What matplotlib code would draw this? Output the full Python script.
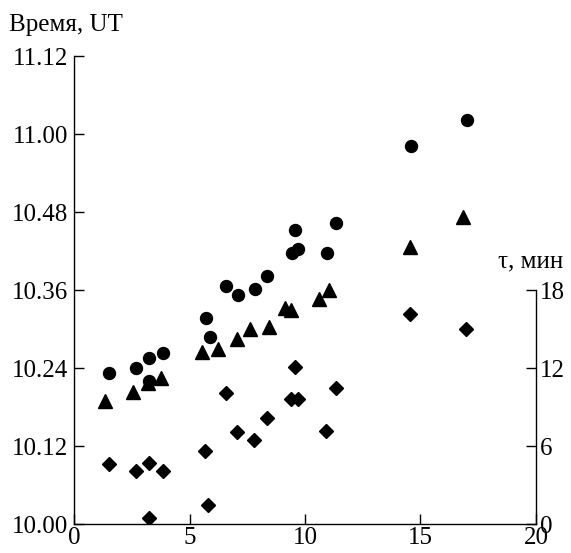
import numpy as np
import matplotlib
matplotlib.use("Agg")
import matplotlib.pyplot as plt

plt.rcParams['font.family'] = ['Liberation Serif', 'DejaVu Serif']

# Circles: time in minutes after 10:00 UT (left axis)
circ_x = [1.5, 2.7, 3.25, 3.85, 3.25, 5.7, 5.9, 6.6, 7.1, 7.85, 8.35,
          9.55, 9.45, 9.7, 10.95, 11.35, 14.6, 17.0]
circ_t = [23.2, 24.1, 25.5, 26.3, 22.1, 31.7, 28.8, 36.7, 35.3, 36.2, 38.2,
          45.3, 41.7, 42.3, 41.7, 46.3, 58.2, 62.1]

# Triangles: time in minutes after 10:00 UT (left axis)
tri_x = [1.35, 2.55, 3.2, 3.75, 5.55, 6.25, 7.05, 7.6, 8.45, 9.15, 9.4,
         10.6, 11.05, 14.55, 16.85]
tri_t = [19.0, 20.4, 21.7, 22.5, 26.5, 27.0, 28.5, 30.0, 30.4, 33.2, 33.0,
         34.6, 36.0, 42.6, 47.3]

# Diamonds: tau, min (right axis)
dia_x = [1.5, 2.7, 3.25, 3.85, 3.25, 5.65, 5.8, 6.6, 7.05, 7.8, 8.35,
         9.4, 9.7, 9.55, 10.9, 11.35, 14.55, 16.95]
dia_tau = [4.6, 4.1, 4.7, 4.1, 0.5, 5.6, 1.5, 10.1, 7.1, 6.5, 8.2,
           9.6, 9.6, 12.1, 7.2, 10.5, 16.2, 15.0]

left_ticks = [0, 12, 24, 36, 48, 60, 72]
left_labels = ["10.00", "10.12", "10.24", "10.36", "10.48", "11.00", "11.12"]
right_ticks = [0, 6, 12, 18]
x_ticks = [0, 5, 10, 15, 20]

fig = plt.figure(figsize=(5.71, 5.53), dpi=100)
ax = fig.add_axes([0.1296, 0.052, 0.8091, 0.8467])

ax.plot(circ_x, circ_t, 'o', color='black', ms=8.6, zorder=3)
ax.plot(tri_x, tri_t, '^', color='black', ms=10.5, zorder=3)

ax.set_xlim(0, 20)
ax.set_ylim(0, 72)
ax.set_xticks(x_ticks)
ax.set_yticks(left_ticks)
ax.set_yticklabels(left_labels)
ax.spines['top'].set_visible(False)
ax.spines['right'].set_visible(False)
ax.tick_params(direction='in', length=7, width=1, labelsize=18, pad=4)
ax.tick_params(axis='x', pad=2)

ax2 = ax.twinx()
ax2.plot(dia_x, dia_tau, 'D', color='black', ms=7.5, zorder=3)
ax2.set_ylim(0, 36)
ax2.set_yticks(right_ticks)
ax2.spines['right'].set_bounds(0, 18)
for s in ['top', 'left', 'bottom']:
    ax2.spines[s].set_visible(False)
ax2.tick_params(direction='in', length=7, width=1, labelsize=18, pad=3)

for a in (ax, ax2):
    for s in a.spines.values():
        s.set_linewidth(1.0)

fig.text(0.016, 1 - 31 / 553, "Время, UT", fontsize=18, va='baseline', ha='left')
fig.text(0.872, 1 - 267 / 553, "τ, мин", fontsize=18, va='baseline', ha='left')

fig.savefig("out.png", dpi=100)
